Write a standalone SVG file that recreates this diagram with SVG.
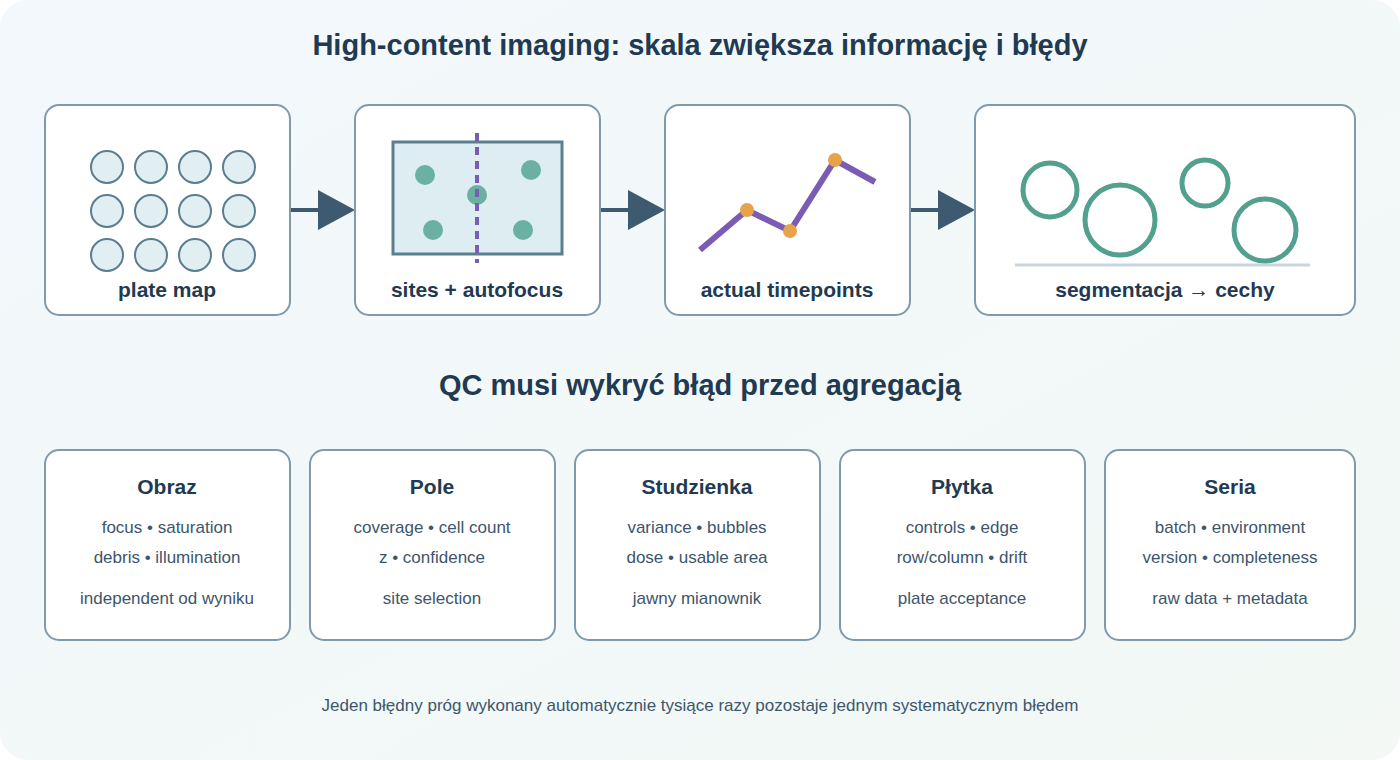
<svg xmlns="http://www.w3.org/2000/svg" width="1400" height="760" viewBox="0 0 1400 760">
<defs>
<linearGradient id="bg" x1="0" y1="0" x2="1" y2="1"><stop offset="0" stop-color="#f2f8fc"/><stop offset="1" stop-color="#f3f8f5"/></linearGradient>
<style>
.box{fill:#fff;stroke:#7f9aac;stroke-width:2}
.lbl{font-family:"Liberation Sans",Arial,sans-serif;font-weight:bold;font-size:21px;fill:#1f3a52;text-anchor:middle}
.h{font-family:"Liberation Sans",Arial,sans-serif;font-weight:bold;fill:#1f3a52;text-anchor:middle}
.t{font-family:"Liberation Sans",Arial,sans-serif;font-size:17px;fill:#3d566c;text-anchor:middle}
.well{fill:#e1eef2;stroke:#5a7d8f;stroke-width:2}
.cell{fill:none;stroke:#52a08d;stroke-width:5}
.arr{stroke:#3d5a70;stroke-width:4}
.head{fill:#3d5a70}
</style>
</defs>
<rect width="1400" height="760" rx="28" fill="url(#bg)"/>
<text class="h" x="700" y="55" font-size="29">High-content imaging: skala zwiększa informację i błędy</text>
<g id="connectors">
<line class="arr" x1="290" y1="210" x2="320" y2="210"/><polygon class="head" points="318,190 355,210 318,230"/>
<line class="arr" x1="600" y1="210" x2="630" y2="210"/><polygon class="head" points="628,190 665,210 628,230"/>
<line class="arr" x1="910" y1="210" x2="940" y2="210"/><polygon class="head" points="938,190 975,210 938,230"/>
</g>
<g id="plate">
<rect class="box" x="45" y="105" width="245" height="210" rx="14"/>
<g>
<circle class="well" cx="107" cy="167" r="16"/><circle class="well" cx="151" cy="167" r="16"/><circle class="well" cx="195" cy="167" r="16"/><circle class="well" cx="239" cy="167" r="16"/>
<circle class="well" cx="107" cy="211" r="16"/><circle class="well" cx="151" cy="211" r="16"/><circle class="well" cx="195" cy="211" r="16"/><circle class="well" cx="239" cy="211" r="16"/>
<circle class="well" cx="107" cy="255" r="16"/><circle class="well" cx="151" cy="255" r="16"/><circle class="well" cx="195" cy="255" r="16"/><circle class="well" cx="239" cy="255" r="16"/>
</g>
<text class="lbl" x="167" y="297">plate map</text>
</g>
<g id="sites">
<rect class="box" x="355" y="105" width="245" height="210" rx="14"/>
<rect x="393" y="142" width="169" height="112" fill="#ddedf1" stroke="#5a8090" stroke-width="3"/>
<g fill="#6ab1a1"><circle cx="425" cy="175" r="10"/><circle cx="531" cy="170" r="10"/><circle cx="477" cy="195" r="10"/><circle cx="433" cy="230" r="10"/><circle cx="523" cy="230" r="10"/></g>
<line x1="477" y1="133" x2="477" y2="263" stroke="#7a5cb5" stroke-width="4" stroke-dasharray="8,6"/>
<text class="lbl" x="477" y="297">sites + autofocus</text>
</g>
<g id="timepoints">
<rect class="box" x="665" y="105" width="245" height="210" rx="14"/>
<polyline points="700,250 747,210 790,231 835,160 875,182" fill="none" stroke="#7a5cb5" stroke-width="6"/>
<g fill="#e8a24a"><circle cx="747" cy="210" r="7"/><circle cx="790" cy="231" r="7"/><circle cx="835" cy="160" r="7"/></g>
<text class="lbl" x="787" y="297">actual timepoints</text>
</g>
<g id="segmentation">
<rect class="box" x="975" y="105" width="380" height="210" rx="14"/>
<line x1="1015" y1="265" x2="1310" y2="265" stroke="#c9d6de" stroke-width="3"/>
<circle class="cell" cx="1050" cy="190" r="27"/><circle class="cell" cx="1120" cy="220" r="35"/><circle class="cell" cx="1205" cy="183" r="23"/><circle class="cell" cx="1265" cy="230" r="31"/>
<text class="lbl" x="1165" y="297">segmentacja → cechy</text>
</g>
<text class="h" x="700" y="395" font-size="29">QC musi wykryć błąd przed agregacją</text>
<g id="obraz"><rect class="box" x="45" y="450" width="245" height="190" rx="14"/>
<text class="h" x="167" y="494" font-size="21">Obraz</text>
<text class="t" x="167" y="533">focus • saturation</text><text class="t" x="167" y="563">debris • illumination</text><text class="t" x="167" y="604">independent od wyniku</text></g>
<g id="pole"><rect class="box" x="310" y="450" width="245" height="190" rx="14"/>
<text class="h" x="432" y="494" font-size="21">Pole</text>
<text class="t" x="432" y="533">coverage • cell count</text><text class="t" x="432" y="563">z • confidence</text><text class="t" x="432" y="604">site selection</text></g>
<g id="studzienka"><rect class="box" x="575" y="450" width="245" height="190" rx="14"/>
<text class="h" x="697" y="494" font-size="21">Studzienka</text>
<text class="t" x="697" y="533">variance • bubbles</text><text class="t" x="697" y="563">dose • usable area</text><text class="t" x="697" y="604">jawny mianownik</text></g>
<g id="plytka"><rect class="box" x="840" y="450" width="245" height="190" rx="14"/>
<text class="h" x="962" y="494" font-size="21">Płytka</text>
<text class="t" x="962" y="533">controls • edge</text><text class="t" x="962" y="563">row/column • drift</text><text class="t" x="962" y="604">plate acceptance</text></g>
<g id="seria"><rect class="box" x="1105" y="450" width="250" height="190" rx="14"/>
<text class="h" x="1230" y="494" font-size="21">Seria</text>
<text class="t" x="1230" y="533">batch • environment</text><text class="t" x="1230" y="563">version • completeness</text><text class="t" x="1230" y="604">raw data + metadata</text></g>
<text class="t" x="700" y="711">Jeden błędny próg wykonany automatycznie tysiące razy pozostaje jednym systematycznym błędem</text>
</svg>
